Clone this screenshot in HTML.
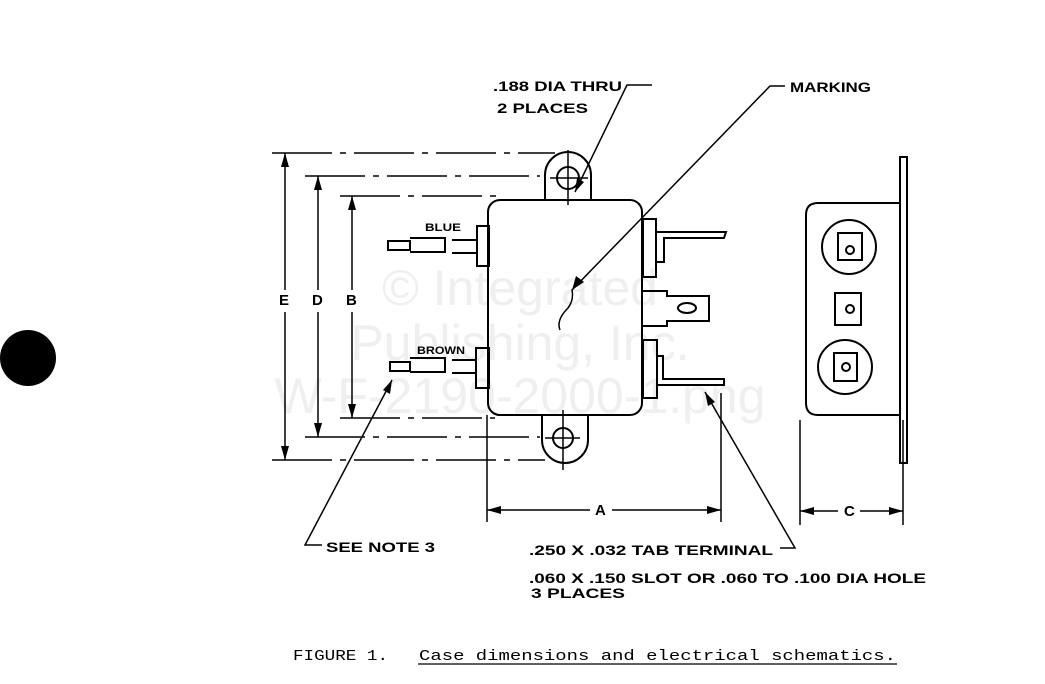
<!DOCTYPE html>
<html><head><style>
html,body{margin:0;padding:0;background:#fff;}
svg{display:block;}
text{font-family:"Liberation Sans",sans-serif;font-weight:bold;fill:#000;}
.m{font-family:"Liberation Mono",monospace;font-weight:normal;}
</style></head><body>
<svg width="1045" height="684" viewBox="0 0 1045 684" xmlns="http://www.w3.org/2000/svg">
<g stroke="none" font-size="50" text-anchor="middle">
<text x="520" y="305" style="fill:#efefef;font-weight:normal">© Integrated</text>
<text x="520" y="360" style="fill:#efefef;font-weight:normal">Publishing, Inc.</text>
<text x="520" y="413" style="fill:#efefef;font-weight:normal">W-F-2190-2000-1.png</text>
</g>
<g fill="none" stroke="#000" stroke-width="2">
<rect x="488" y="200" width="154" height="215" rx="12"/>
<path d="M545 200 V175 A23 23 0 0 1 591 175 V200"/>
<circle cx="568" cy="178" r="11"/>
<path d="M542 415 V440 A23 23 0 0 0 588 440 V415"/>
<circle cx="563" cy="438" r="10"/>
<path d="M568 150 V205 M550 178 H588 M563 410 V470 M545 438 H580" stroke-width="1.5"/>
<rect x="477" y="226" width="12" height="40"/>
<rect x="476" y="348" width="13" height="40"/>
<path d="M388 241 H410 V250 H388 Z M410 238 H445 V252 H410 M452 240 H477 M452 253 H477"/>
<path d="M390 362 H410 V371 H390 Z M410 358 H445 V372 H410 M452 360 H476 M452 373 H476"/>
<rect x="643" y="219" width="13" height="58"/>
<path d="M656 232 H726 L724 238 H664 V262 H656"/>
<path d="M643 291 H667 V296 H709 V321 H667 V326 H643"/>
<ellipse cx="687" cy="308" rx="9" ry="5"/>
<rect x="643" y="340" width="14" height="58"/>
<path d="M657 356 H663 V379 H724 V385 H657"/>
<path d="M560 330 Q556 320 568 308 Q574 300 572 290 L770 86 H785" stroke-width="1.5"/>
<path d="M575 192 L627 85 H652" stroke-width="1.5"/>
<path d="M272 153 H555 M272 460 H545 M305 176 H540 M305 437 H540 M340 196 H500 M340 418 H495" stroke-width="1.5" stroke-dasharray="60 8 6 8"/>
<path d="M285 153 V290 M285 312 V460 M318 176 V290 M318 312 V437 M352 196 V290 M352 312 V418" stroke-width="1.5"/>
<path d="M487 415 V522 M721 393 V522 M487 510 H590 M612 510 H721 M800 420 V525 M903 420 V525 M800 511 H838 M860 511 H903" stroke-width="1.5"/>
<path d="M392 380 L305 545 H322" stroke-width="1.5"/>
<path d="M705 392 L795 548 H780" stroke-width="1.5"/>
<path d="M900 203 H818 Q806 203 806 215 V403 Q806 415 818 415 H900"/>
<rect x="900" y="157" width="7" height="306"/>
<circle cx="849" cy="247" r="27"/>
<rect x="838" y="233" width="24" height="27"/>
<circle cx="850" cy="250" r="4"/>
<rect x="835" y="293" width="26" height="32"/>
<circle cx="850" cy="309" r="4"/>
<circle cx="845" cy="367" r="27"/>
<rect x="834" y="353" width="23" height="28"/>
<circle cx="846" cy="367" r="4"/>
</g>
<g fill="#000">
<path d="M285 153 l-4 14 h8z M285 460 l-4 -14 h8z M318 176 l-4 14 h8z M318 437 l-4 -14 h8z M352 196 l-4 14 h8z M352 418 l-4 -14 h8z"/>
<path d="M487 510 l14 -4 v8z M721 510 l-14 -4 v8z M800 511 l14 -4 v8z M903 511 l-14 -4 v8z"/>
<path d="M392 380 l-2 14 l-7 -4z M705 392 l10 10 l-7 4z M575 192 l2 -14 l7 4z M572 290 l4 -14 l8 6z"/>
<circle cx="28" cy="358" r="28"/>
</g>
<g font-size="14">
<text x="493" y="91" textLength="129" lengthAdjust="spacingAndGlyphs">.188 DIA THRU</text>
<text x="497" y="113" textLength="91" lengthAdjust="spacingAndGlyphs">2 PLACES</text>
<text x="790" y="92" textLength="81" lengthAdjust="spacingAndGlyphs">MARKING</text>
<text x="425" y="231" font-size="11" textLength="36" lengthAdjust="spacingAndGlyphs">BLUE</text>
<text x="417" y="354" font-size="11" textLength="48" lengthAdjust="spacingAndGlyphs">BROWN</text>
<text x="279" y="305" font-size="15" font-weight="normal">E</text>
<text x="312" y="305" font-size="15" font-weight="normal">D</text>
<text x="346" y="305" font-size="15" font-weight="normal">B</text>
<text x="595" y="515" font-size="15" font-weight="normal">A</text>
<text x="844" y="516" font-size="15" font-weight="normal">C</text>
<text x="326" y="552" textLength="109" lengthAdjust="spacingAndGlyphs">SEE NOTE 3</text>
<text x="529" y="555" textLength="244" lengthAdjust="spacingAndGlyphs">.250 X .032 TAB TERMINAL</text>
<text x="529" y="583" textLength="397" lengthAdjust="spacingAndGlyphs">.060 X .150 SLOT OR .060 TO .100 DIA HOLE</text>
<text x="531" y="598" textLength="94" lengthAdjust="spacingAndGlyphs">3 PLACES</text>
</g>
<text class="m" x="293" y="660" font-size="15" textLength="95" lengthAdjust="spacingAndGlyphs">FIGURE 1.</text>
<text class="m" x="419" y="660" font-size="15" textLength="477" lengthAdjust="spacingAndGlyphs">Case dimensions and electrical schematics.</text>
<line x1="418" y1="664" x2="897" y2="664" stroke="#000" stroke-width="1.2"/>
</svg>
</body></html>
